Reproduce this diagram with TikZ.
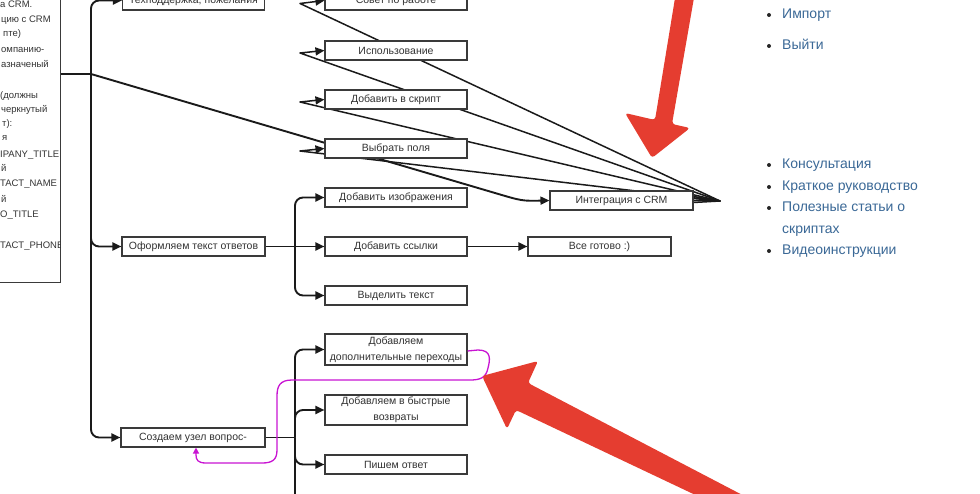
\documentclass[tikz,border=0pt]{standalone}
\usepackage{fontspec}
\setmainfont{Liberation Sans}
\usetikzlibrary{arrows.meta}
\pgfdeclarelayer{background}
\pgfsetlayers{background,main}
\definecolor{conncol}{HTML}{1A1A1A}
\definecolor{boxcol}{HTML}{3A3A3A}
\definecolor{txtcol}{HTML}{333333}
\definecolor{linkcol}{RGB}{58,104,150}
\definecolor{redarr}{RGB}{229,61,48}
\definecolor{mag}{RGB}{200,20,210}
\begin{document}
\begin{tikzpicture}[x=1pt,y=-1pt,
  box/.style={draw=boxcol,line width=1.1pt,fill=white,minimum width=142pt,minimum height=19pt,inner sep=1pt,font=\fontsize{10.5}{16}\selectfont,text=txtcol,align=center},
  conn/.style={draw=conncol,line width=1.9pt,line join=round},
  fanline/.style={draw=conncol,line width=1.5pt,line join=round},
  arr/.style={-{Triangle[length=9pt,width=8pt]}},
  lefttxt/.style={anchor=base west,inner sep=0pt,font=\fontsize{9.5}{12}\selectfont,text=txtcol},
  listtxt/.style={anchor=base west,inner sep=0pt,font=\fontsize{14}{18}\selectfont,text=linkcol},
  redshape/.style={fill=redarr,rounded corners=3pt}
]
\useasboundingbox (0,0) rectangle (980,494);
\clip (0,0) rectangle (980,494);

% left clipped box
\node[draw=boxcol,line width=1.1pt,minimum width=80pt,minimum height=300pt,anchor=south east,inner sep=0pt] (leftbox) at (61,283) {};
\begin{scope}
\clip (-2,-10) rectangle (60.3,282);
\node[lefttxt] (l1) at (0,8) {а CRM.};
\node[lefttxt] (l2) at (1,23) {цию с CRM};
\node[lefttxt] (l3) at (3,37) {пте)};
\node[lefttxt] (l4) at (1,53) {омпанию-};
\node[lefttxt] (l5) at (1,68) {азначеный};
\node[lefttxt] (l6) at (0,99) {(должны};
\node[lefttxt] (l7) at (1,113) {черкнутый};
\node[lefttxt] (l8) at (2,127) {т):};
\node[lefttxt] (l9) at (2,141) {я};
\node[lefttxt] (l10) at (0,158) {IPANY\_TITLE};
\node[lefttxt] (l11) at (1,172) {й};
\node[lefttxt] (l12) at (0,187) {TACT\_NAME};
\node[lefttxt] (l13) at (1,203) {й};
\node[lefttxt] (l14) at (0,218) {O\_TITLE};
\node[lefttxt] (l15) at (0,249) {TACT\_PHONE};
\end{scope}

% boxes
\node[box] (tech) at (193.5,0.5) {Техподдержка, пожелания};
\node[box] (sovet) at (396,0.5) {Совет по работе};
\node[box] (ispolz) at (396,50.5) {Использование};
\node[box] (dobskr) at (396,99.5) {Добавить в скрипт};
\node[box] (vybrat) at (396,148.5) {Выбрать поля};
\node[box] (dobizo) at (396,197.5) {Добавить изображения};
\node[box] (dobssy) at (396,246.5) {Добавить ссылки};
\node[box] (vydel) at (396,295.5) {Выделить текст};
\node[box,minimum width=143pt] (integ) at (621.5,200.5) {Интеграция с CRM};
\node[box,minimum width=143pt] (gotovo) at (599.5,246.5) {Все готово :)};
\node[box,minimum width=143pt] (oform) at (193.5,246.5) {Оформляем текст ответов};
\node[box,minimum height=31pt] (dobper) at (396,349.5) {Добавляем\\дополнительные переходы};
\node[box,minimum height=30pt] (dobvoz) at (396,410) {Добавляем в быстрые\\возвраты};
\node[box] (pishem) at (396,464.5) {Пишем ответ};
\node[box,minimum width=144pt] (sozd) at (193,437.5) {Создаем узел вопрос-};

% connectors
\begin{pgfonlayer}{background}
\coordinate (lbout) at (61,74);
\coordinate (j1) at (91,74);
\draw[conn] (lbout) -- (j1);
\draw[conn,arr,rounded corners=8pt] (j1) -- (91,0.5) -- (tech.west);
\draw[conn,arr,rounded corners=8pt] (j1) -- (91,246.5) -- (oform.west);
\draw[conn,arr,rounded corners=8pt] (j1) -- (91,437.5) -- (sozd.west);
\draw[conn,arr] (j1) -- (495,193) .. controls (522,201) .. (integ.west);

\coordinate (j2) at (295,246.5);
\draw[conn] (oform.east) -- (j2);
\draw[conn,arr,rounded corners=8pt] (j2) -- (295,197.5) -- (dobizo.west);
\draw[conn,arr] (j2) -- (dobssy.west);
\draw[conn,arr,rounded corners=8pt] (j2) -- (295,295.5) -- (vydel.west);
\draw[conn,arr] (dobssy.east) -- (gotovo.west);

\coordinate (j3) at (295,437.5);
\draw[conn] (sozd.east) -- (j3);
\draw[conn,arr,rounded corners=8pt] (j3) -- (295,349.5) -- (dobper.west);
\draw[conn,arr,rounded corners=8pt] (j3) -- (295,410) -- (dobvoz.west);
\draw[conn,arr,rounded corners=8pt] (j3) -- (295,464.5) -- (pishem.west);
\draw[conn] (j3) -- (295,500);

\coordinate (fan) at (720,201);
\draw[fanline,arr] ([yshift=4pt]integ.east) -- (fan) -- (300,3.5) -- (sovet.west);
\draw[fanline,arr] ([yshift=2pt]integ.east) -- (fan) -- (300,53) -- (ispolz.west);
\draw[fanline,arr] (integ.east) -- (fan) -- (300,102) -- (dobskr.west);
\draw[fanline,arr] ([yshift=-2pt]integ.east) -- (fan) -- (300,151) -- (vybrat.west);
\end{pgfonlayer}

% magenta route
\draw[mag,line width=1.3pt,-{Triangle[length=6pt,width=6pt]}] ([yshift=-1.5pt]dobper.east) -- (478,350)
  .. controls (492,350) and (490,360) .. (488,368)
  .. controls (486,378) and (480,380) .. (470,380) -- (292,380)
  .. controls (280,380) and (277,386) .. (277,396) -- (277,450)
  .. controls (277,460) and (272,463) .. (262,463) -- (206,463)
  .. controls (198,463) and (196,460) .. (196,455) -- ([xshift=3pt]sozd.south);

% red annotation arrows
\fill[redshape] (652,158) -- (625,113) -- (655,120) -- (676,-8) -- (695,-8) -- (672,124) -- (690,128) -- cycle;
\fill[redshape] (482,376) -- (538,361) -- (528,383) -- (752,500) -- (706,500) -- (516,410) -- (507,429) -- cycle;

% right list
\fill[black!85] (769,15) circle (2pt);
\node[listtxt] (imp) at (782,19) {Импорт};
\fill[black!85] (769,46) circle (2pt);
\node[listtxt] (exit) at (782,50) {Выйти};
\fill[black!85] (769,165) circle (2pt);
\node[listtxt] (kons) at (782,169) {Консультация};
\fill[black!85] (769,187) circle (2pt);
\node[listtxt] (kratk) at (782,191) {Краткое руководство};
\fill[black!85] (769,208) circle (2pt);
\node[listtxt] (polez) at (782,212) {Полезные статьи о};
\node[listtxt] (skr) at (782,234) {скриптах};
\fill[black!85] (769,251) circle (2pt);
\node[listtxt] (video) at (782,255) {Видеоинструкции};
\end{tikzpicture}
\end{document}
